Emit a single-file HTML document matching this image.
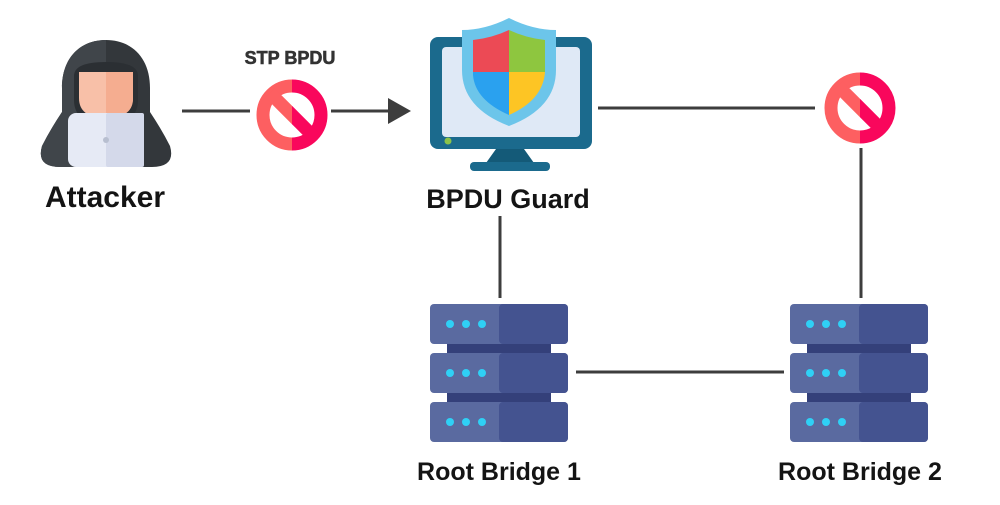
<!DOCTYPE html>
<html><head><meta charset="utf-8"><style>
html,body{margin:0;padding:0;background:#fff;}
svg text{font-family:"Liberation Sans",sans-serif;font-weight:bold;fill:#141414;}
</style></head><body>
<svg width="1000" height="500" viewBox="0 0 1000 500" xmlns="http://www.w3.org/2000/svg">
<defs>
<clipPath id="lh"><rect x="-50" y="-50" width="50" height="100"/></clipPath>
<clipPath id="rh"><rect x="0" y="-50" width="50" height="100"/></clipPath>
<clipPath id="lhalf"><rect x="0" y="0" width="106" height="200"/></clipPath>
<g id="stop">
 <g clip-path="url(#lh)"><circle r="29" fill="none" stroke="#fd5f61" stroke-width="13"/><line x1="-22" y1="-22" x2="22" y2="22" stroke="#fd5f61" stroke-width="13"/></g>
 <g clip-path="url(#rh)"><circle r="29" fill="none" stroke="#f9075c" stroke-width="13"/><line x1="-22" y1="-22" x2="22" y2="22" stroke="#f9075c" stroke-width="13"/></g>
</g>
<g id="srv">
 <rect x="17" y="38" width="104" height="12" fill="#34407a"/>
 <rect x="17" y="87" width="104" height="12" fill="#34407a"/>
 <rect x="0" y="0" width="138" height="40" rx="4" fill="#5a6aa0"/>
 <rect x="0" y="49" width="138" height="40" rx="4" fill="#5a6aa0"/>
 <rect x="0" y="98" width="138" height="40" rx="4" fill="#5a6aa0"/>
 <rect x="69" y="0" width="69" height="40" rx="4" fill="#445390"/>
 <rect x="69" y="49" width="69" height="40" rx="4" fill="#445390"/>
 <rect x="69" y="98" width="69" height="40" rx="4" fill="#445390"/>
 <g fill="#2fd0f5">
  <circle cx="20" cy="20" r="4"/><circle cx="36" cy="20" r="4"/><circle cx="52" cy="20" r="4"/>
  <circle cx="20" cy="69" r="4"/><circle cx="36" cy="69" r="4"/><circle cx="52" cy="69" r="4"/>
  <circle cx="20" cy="118" r="4"/><circle cx="36" cy="118" r="4"/><circle cx="52" cy="118" r="4"/>
 </g>
</g>
</defs>
<!-- connectors -->
<g stroke="#3d3d3d" stroke-width="3" fill="none">
 <line x1="182" y1="111" x2="250" y2="111"/>
 <line x1="331" y1="111" x2="392" y2="111"/>
 <line x1="598" y1="108" x2="815" y2="108"/>
 <line x1="861" y1="148" x2="861" y2="298"/>
 <line x1="500" y1="216" x2="500" y2="298"/>
 <line x1="576" y1="372" x2="784" y2="372"/>
</g>
<polygon points="388,98 411,111 388,124" fill="#3d3d3d"/>
<use href="#stop" x="292" y="115"/>
<use href="#stop" x="860" y="108"/>
<text x="290" y="64" font-size="18" text-anchor="middle" font-weight="900" style="fill:#333;stroke:#333;stroke-width:0.6">STP BPDU</text>
<!-- attacker -->
<g>
 <path d="M106,40 C80,40 62,58 62,88 L62,112 Q50,130 42,146 Q36,167 60,167 L152,167 Q176,167 170,146 Q162,130 150,112 L150,88 C150,58 132,40 106,40Z" fill="#33373b"/>
 <path d="M106,40 C80,40 62,58 62,88 L62,112 Q50,130 42,146 Q36,167 60,167 L106,167Z" fill="#40454a"/>
 <path d="M74,76 Q74,62 106,62 Q138,62 138,76 L138,100 Q138,124 106,124 Q74,124 74,100Z" fill="#2b2f33"/>
 <path d="M79,72 L133,72 L133,98 Q133,118 106,118 Q79,118 79,98Z" fill="#f8c0a8"/>
 <path d="M106,72 L133,72 L133,98 Q133,118 106,118Z" fill="#f5ad90"/>
 <rect x="68" y="113" width="76" height="54" rx="8" fill="#e6eaf5"/>
 <rect x="106" y="113" width="38" height="54" rx="2" fill="#d4d9ea"/>
 <circle cx="106" cy="140" r="3" fill="#b8bfd0"/>
</g>
<text x="105" y="207" font-size="30" text-anchor="middle">Attacker</text>
<!-- monitor -->
<rect x="430" y="37" width="162" height="112" rx="8" fill="#1b6a8d"/>
<rect x="442" y="47" width="138" height="90" rx="4" fill="#dfe9f6"/>
<circle cx="448" cy="141" r="3.5" fill="#8bc34a"/>
<path d="M496,149 L524,149 L534,163 L486,163Z" fill="#145a78"/>
<rect x="470" y="162" width="80" height="9" rx="4" fill="#1b6a8d"/>
<path d="M509,18 Q485,30 462,30 L462,70 Q462,108 509,126 Q556,108 556,70 L556,30 Q533,30 509,18Z" fill="#6cc5ea"/>
<path d="M509,30 L509,72 L473,72 L473,40 Q492,38 509,30Z" fill="#ec4a55"/>
<path d="M509,30 Q526,38 545,40 L545,72 L509,72Z" fill="#8ec63f"/>
<path d="M473,72 L509,72 L509,115 Q475,100 473,75Z" fill="#2aa1ef"/>
<path d="M509,72 L545,72 Q543,100 509,115Z" fill="#fdc524"/>
<text x="508" y="208" font-size="27" text-anchor="middle">BPDU Guard</text>
<!-- servers -->
<use href="#srv" x="430" y="304"/>
<use href="#srv" x="790" y="304"/>
<text x="499" y="480" font-size="25" text-anchor="middle">Root Bridge 1</text>
<text x="860" y="480" font-size="25" text-anchor="middle">Root Bridge 2</text>
</svg>
</body></html>
